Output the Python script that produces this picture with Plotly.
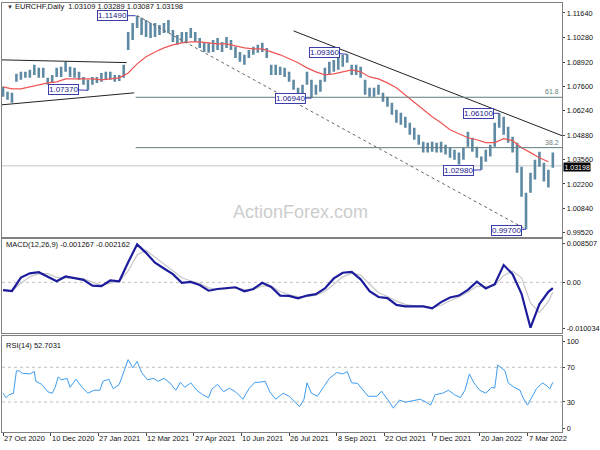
import plotly.graph_objects as go

# ---------------- data ----------------
header_text = "EURCHF,Daily  1.03109 1.03289 1.03087 1.03198"
last_close = 1.03198
bar_step = 3  # one sampled bar every 3 daily bars

price_high = [1.0756, 1.0729, 1.0723, 1.0828, 1.0839, 1.0839, 1.0850, 1.0878, 1.0861, 1.0861,
              1.0806, 1.0822, 1.0861, 1.0867, 1.0894, 1.0867, 1.0861, 1.0839, 1.0811, 1.0795,
              1.0811, 1.0811, 1.0833, 1.0839, 1.0839, 1.0822, 1.0822, 1.0878, 1.1059, 1.1109,
              1.1149, 1.1137, 1.1125, 1.1109, 1.1109, 1.1098, 1.1109, 1.1125, 1.1070, 1.1043,
              1.1059, 1.1059, 1.1081, 1.1059, 1.1026, 1.1004, 1.0999, 1.1015, 1.1026, 1.1004,
              1.1032, 1.1015, 1.0977, 1.0949, 1.0933, 1.0960, 1.0977, 1.0988, 1.0999, 1.0971,
              1.0878, 1.0878, 1.0867, 1.0861, 1.0839, 1.0795, 1.0751, 1.0767, 1.0839, 1.0795,
              1.0767, 1.0795, 1.0861, 1.0894, 1.0905, 1.0916, 1.0933, 1.0936, 1.0878, 1.0878,
              1.0867, 1.0795, 1.0751, 1.0751, 1.0767, 1.0723, 1.0701, 1.0668, 1.0630, 1.0613,
              1.0591, 1.0558, 1.0530, 1.0492, 1.0453, 1.0448, 1.0453, 1.0448, 1.0453, 1.0437,
              1.0420, 1.0409, 1.0393, 1.0420, 1.0508, 1.0475, 1.0426, 1.0371, 1.0409, 1.0437,
              1.0558, 1.0610, 1.0591, 1.0536, 1.0481, 1.0448, 1.0315, 1.0172, 1.0282, 1.0354,
              1.0398, 1.0337, 1.0299, 1.0393]
price_low = [1.0701, 1.0685, 1.0668, 1.0784, 1.0795, 1.0806, 1.0806, 1.0822, 1.0806, 1.0806,
             1.0767, 1.0778, 1.0811, 1.0811, 1.0839, 1.0811, 1.0806, 1.0795, 1.0767, 1.0737,
             1.0767, 1.0778, 1.0784, 1.0795, 1.0795, 1.0784, 1.0789, 1.0806, 1.0960, 1.1015,
             1.1081, 1.1043, 1.1032, 1.1026, 1.1032, 1.1043, 1.1054, 1.1054, 1.1004, 1.0988,
             1.0999, 1.1004, 1.1026, 1.1004, 1.0971, 1.0949, 1.0944, 1.0949, 1.0960, 1.0949,
             1.0971, 1.0960, 1.0916, 1.0894, 1.0878, 1.0916, 1.0933, 1.0944, 1.0949, 1.0916,
             1.0822, 1.0822, 1.0822, 1.0811, 1.0784, 1.0740, 1.0701, 1.0712, 1.0767, 1.0694,
             1.0712, 1.0729, 1.0784, 1.0822, 1.0839, 1.0850, 1.0867, 1.0889, 1.0822, 1.0822,
             1.0806, 1.0712, 1.0701, 1.0701, 1.0712, 1.0674, 1.0646, 1.0602, 1.0558, 1.0547,
             1.0530, 1.0492, 1.0464, 1.0437, 1.0393, 1.0393, 1.0398, 1.0393, 1.0393, 1.0382,
             1.0365, 1.0354, 1.0327, 1.0354, 1.0426, 1.0398, 1.0365, 1.0298, 1.0343, 1.0371,
             1.0426, 1.0530, 1.0492, 1.0448, 1.0393, 1.0282, 1.0150, 0.9970, 1.0172, 1.0244,
             1.0315, 1.0233, 1.0200, 1.0310]

ma_idx = list(range(0, 367, 6))
ma_val = [1.0756, 1.0745, 1.0745, 1.0756, 1.0767, 1.0778, 1.0784, 1.0800, 1.0800, 1.0800,
          1.0800, 1.0795, 1.0800, 1.0806, 1.0833, 1.0883, 1.0922, 1.0949, 1.0971, 1.0988,
          1.0999, 1.1004, 1.1004, 1.0999, 1.0993, 1.0993, 1.0982, 1.0971, 1.0966, 1.0966,
          1.0949, 1.0933, 1.0911, 1.0889, 1.0861, 1.0839, 1.0822, 1.0828, 1.0839, 1.0850,
          1.0839, 1.0811, 1.0800, 1.0778, 1.0751, 1.0712, 1.0674, 1.0635, 1.0591, 1.0558,
          1.0519, 1.0497, 1.0475, 1.0464, 1.0448, 1.0448, 1.0470, 1.0459, 1.0420, 1.0393,
          1.0365, 1.0343]

macd_idx = list(range(0, 367, 6)) + [369]
macd_val = [-0.00169, -0.00188, 0.00105, 0.00198, 0.00222, 0.00117, 0.00023, 0.00129, 0.00086, 0.00055,
            -0.00070, -0.00082, 0.00042, 0.00023, 0.00440, 0.00830, 0.00645, 0.00428, 0.00303, 0.00179,
            -0.00008, 0.00011, -0.00057, -0.00182, -0.00144, -0.00132, -0.00107, -0.00194, -0.00144, -0.00008,
            -0.00101, -0.00288, -0.00294, -0.00350, -0.00288, -0.00256, -0.00132, 0.00086, 0.00210, 0.00229,
            0.00067, -0.00194, -0.00319, -0.00344, -0.00493, -0.00524, -0.00518, -0.00524, -0.00567, -0.00431,
            -0.00331, -0.00288, -0.00163, 0.00017, -0.00132, -0.00039, 0.00378, 0.00179, -0.00250, -0.00990,
            -0.00474, -0.00206, -0.001267]
signal_val = [-0.0016, -0.0018, -0.0002, 0.0012, 0.0019, 0.0019, 0.0011, 0.0009, 0.0010, 0.0008,
              0.0000, -0.0006, -0.0002, 0.0002, 0.0025, 0.0060, 0.0070, 0.0055, 0.0040, 0.0026,
              0.0010, 0.0003, -0.0002, -0.0012, -0.0015, -0.0014, -0.0012, -0.0016, -0.0016, -0.0008,
              -0.0008, -0.0020, -0.0027, -0.0031, -0.0031, -0.0028, -0.0020, -0.0004, 0.0012, 0.0020,
              0.0016, -0.0004, -0.0022, -0.0031, -0.0041, -0.0048, -0.0051, -0.0052, -0.0055, -0.0050,
              -0.0040, -0.0032, -0.0022, -0.0008, -0.0009, -0.0007, 0.0015, 0.0025, 0.0010, -0.0045,
              -0.0066, -0.0042, -0.002162]

rsi_idx = [0, 2, 4, 7, 9, 11, 13, 18, 21, 22, 26, 30, 33, 35, 37, 39, 43, 45, 49, 53,
           57, 61, 65, 67, 71, 74, 78, 80, 84, 87, 90, 93, 97, 101, 104, 108, 112, 116, 119, 122,
           126, 130, 134, 138, 140, 144, 148, 152, 156, 161, 165, 169, 172, 176, 179, 183, 188, 192, 195, 199,
           202, 204, 207, 211, 215, 219, 224, 228, 231, 234, 238, 242, 245, 251, 254, 258, 262, 266, 270, 275,
           280, 284, 287, 290, 295, 299, 303, 307, 310, 313, 316, 320, 324, 328, 330, 332, 337, 339, 343, 347,
           349, 352, 356, 358, 362, 365, 367, 369]
rsi_val = [40.1, 34.9, 38.4, 40.1, 65.8, 65.8, 63.0, 62.3, 65.1, 53.8, 50.3, 41.8, 40.1, 46.9, 58.9, 55.5, 57.2, 46.9, 56.2, 46.9,
           40.1, 43.5, 43.5, 53.8, 56.2, 45.2, 50.3, 60.6, 78.8, 69.2, 76.7, 64.0, 55.5, 57.2, 53.8, 57.2, 52.1, 43.5, 52.7, 46.9,
           52.1, 43.5, 38.4, 34.9, 44.5, 50.3, 41.8, 45.9, 41.8, 33.2, 45.2, 52.7, 52.7, 53.8, 41.8, 33.2, 40.1, 36.6, 31.5, 24.7,
           33.2, 52.1, 40.1, 36.6, 46.9, 57.2, 64.0, 62.3, 65.1, 52.1, 51.4, 43.5, 36.6, 36.6, 42.5, 33.2, 22.9, 32.2, 29.8, 31.5,
           33.2, 29.8, 26.4, 38.4, 40.1, 43.5, 38.4, 34.9, 43.5, 62.3, 52.1, 43.5, 40.1, 46.9, 45.9, 72.6, 65.8, 52.1, 46.9, 43.5,
           34.9, 26.4, 40.1, 45.2, 52.1, 48.6, 45.2, 52.7]

date_tick_idx = [0, 32, 64, 96, 128, 160, 192, 224, 256, 288, 320, 352]
date_tick_text = ["27 Oct 2020", "10 Dec 2020", "27 Jan 2021", "12 Mar 2021", "27 Apr 2021", "10 Jun 2021",
                  "26 Jul 2021", "8 Sep 2021", "22 Oct 2021", "7 Dec 2021", "20 Jan 2022", "7 Mar 2022"]

price_tick_vals = [1.1164, 1.1028, 1.0892, 1.0760, 1.0624, 1.0488, 1.0356, 1.0220, 1.0084, 0.9952]
price_tick_text = ["1.11640", "1.10280", "1.08920", "1.07600", "1.06240", "1.04880", "1.03560", "1.02200", "1.00840", "0.99520"]

macd_tick_vals = [0.008507, 0.0, -0.010034]
macd_tick_text = ["0.008507", "0.00", "-0.010034"]
rsi_tick_vals = [100, 70, 30, 0]

swing_idx = [89, 57, 207, 231, 333, 321, 351]
swing_price = [1.11490, 1.07370, 1.06940, 1.09360, 1.06100, 1.02980, 0.99700]

trend_x0 = [-0.7, -0.7, 195, 90]
trend_y0 = [1.0905, 1.0657, 1.1065, 1.1149]
trend_x1 = [83, 88, 375.3, 351]
trend_y1 = [1.0890, 1.0723, 1.0486, 0.9970]

fib_high, fib_low, fib_start = 1.1149, 0.9970, 89
fib_ratios = [0.618, 0.382]

# ---------------- figure ----------------
FONT = "Liberation Sans"
BORDER = "#808080"
X_RANGE = [-0.7, 375.3]

fig = go.Figure()

bx, by = [], []
for k, (h, l) in enumerate(zip(price_high, price_low)):
    i = k * bar_step
    bx += [i, i, None]
    by += [l, h, None]

# current price line
fig.add_trace(go.Scatter(x=X_RANGE, y=[last_close, last_close], mode="lines",
                         line=dict(color="#d9d9d9", width=1.5), xaxis="x", yaxis="y", hoverinfo="skip"))
fig.add_trace(go.Scatter(x=bx, y=by, mode="lines", line=dict(color="#5f8aa4", width=2.6),
                         xaxis="x", yaxis="y", hoverinfo="skip"))
fig.add_trace(go.Scatter(x=ma_idx, y=ma_val, mode="lines", line=dict(color="#f05555", width=1.2),
                         xaxis="x", yaxis="y"))

fig.add_trace(go.Scatter(x=X_RANGE, y=[0, 0], mode="lines",
                         line=dict(color="#c0c0c0", width=1, dash="dot"), xaxis="x2", yaxis="y2"))
fig.add_trace(go.Scatter(x=macd_idx, y=signal_val, mode="lines", line=dict(color="#c8c8c8", width=1.2),
                         xaxis="x2", yaxis="y2"))
fig.add_trace(go.Scatter(x=macd_idx, y=macd_val, mode="lines", line=dict(color="#1c1c9c", width=2.2),
                         xaxis="x2", yaxis="y2"))

for lvl in [70, 30]:
    fig.add_trace(go.Scatter(x=X_RANGE, y=[lvl, lvl], mode="lines",
                             line=dict(color="#c0c0c0", width=1, dash="dot"), xaxis="x3", yaxis="y3"))
fig.add_trace(go.Scatter(x=rsi_idx, y=rsi_val, mode="lines", line=dict(color="#3d9cf0", width=1),
                         xaxis="x3", yaxis="y3"))

shapes = []
for j, (x0, y0, x1, y1) in enumerate(zip(trend_x0, trend_y0, trend_x1, trend_y1)):
    dashed = (j == 3)
    shapes.append(dict(type="line", xref="x", yref="y", x0=x0, y0=y0, x1=x1, y1=y1,
                       line=dict(color="#666666" if dashed else "#222222", width=1,
                                 dash="3px,3px" if dashed else "solid")))
for r in fib_ratios:
    lvl = fib_low + r * (fib_high - fib_low)
    shapes.append(dict(type="line", xref="x", yref="y", x0=fib_start, x1=X_RANGE[1], y0=lvl, y1=lvl,
                       line=dict(color="#5f7c7c", width=1)))

annotations = []
# fib texts
for r in fib_ratios:
    lvl = fib_low + r * (fib_high - fib_low)
    annotations.append(dict(xref="x", yref="y", x=374.5, y=lvl, text=f"{r*100:.1f}", showarrow=False,
                            xanchor="right", yanchor="bottom", font=dict(family=FONT, size=7, color="#6a8080")))
# swing labels
offsets = [(-23, 0), (-24, -1), (-21, 0), (-23, -2), (-21, 0), (-23, 1), (-20, 1)]
for (i, p), (ax, ay) in zip(zip(swing_idx, swing_price), offsets):
    annotations.append(dict(xref="x", yref="y", x=i, y=p, text=f"{p:.5f}", showarrow=True, arrowhead=0,
                            arrowwidth=1, arrowcolor="#3c3cab", ax=ax, ay=ay, standoff=0,
                            bgcolor="white", bordercolor="#3c3cab", borderwidth=1, borderpad=0,
                            font=dict(family=FONT, size=8, color="#1a1a8c")))
# headers
annotations.append(dict(xref="paper", yref="paper", x=5 / 600, y=1 - 7 / 450, text="▼", showarrow=False,
                        xanchor="left", yanchor="middle", font=dict(family=FONT, size=6, color="#333333")))
annotations.append(dict(xref="paper", yref="paper", x=13 / 600, y=1 - 7 / 450, text=header_text, showarrow=False,
                        xanchor="left", yanchor="middle", font=dict(family=FONT, size=7.5, color="#111111")))
annotations.append(dict(xref="paper", yref="paper", x=4 / 600, y=1 - 245 / 450,
                        text="MACD(12,26,9) -0.001267 -0.002162", showarrow=False,
                        xanchor="left", yanchor="middle", font=dict(family=FONT, size=7.5, color="#111111")))
annotations.append(dict(xref="paper", yref="paper", x=4 / 600, y=1 - 346 / 450,
                        text="RSI(14) 52.7031", showarrow=False,
                        xanchor="left", yanchor="middle", font=dict(family=FONT, size=7.5, color="#111111")))
# watermark
annotations.append(dict(xref="paper", yref="paper", x=303 / 600, y=1 - 212 / 450, text="ActionForex.com",
                        showarrow=False, xanchor="center", yanchor="middle",
                        font=dict(family=FONT, size=18, color="#cdcdcd")))
# current price box
annotations.append(dict(xref="paper", yref="y", x=567 / 600, y=last_close, text=f"{last_close:.5f}",
                        showarrow=False, xanchor="left", yanchor="middle", bgcolor="#000000", borderpad=0.5,
                        yshift=-1, font=dict(family=FONT, size=7, color="white")))
# date labels
for i, t in zip(date_tick_idx, date_tick_text):
    annotations.append(dict(xref="x3", yref="paper", x=i, y=1 - 433 / 450, text=t, showarrow=False,
                            xanchor="left", yanchor="top", xshift=-1,
                            font=dict(family=FONT, size=7.5, color="#111111")))

xdom = [2 / 600, 566 / 600]
common_x = dict(domain=xdom, range=X_RANGE, showgrid=False, zeroline=False, showline=True, mirror=True,
                linecolor=BORDER, linewidth=1, showticklabels=False, ticks="")
common_y = dict(side="right", showgrid=False, zeroline=False, showline=True, mirror=True,
                linecolor=BORDER, linewidth=1, ticks="outside", ticklen=2, tickcolor="#444444",
                tickfont=dict(family=FONT, size=7.3, color="#111111"))

fig.update_layout(
    width=600, height=450, margin=dict(l=0, r=0, t=0, b=0),
    paper_bgcolor="white", plot_bgcolor="white", showlegend=False,
    xaxis=dict(anchor="y", **common_x),
    xaxis2=dict(anchor="y2", matches="x", **common_x),
    xaxis3=dict(anchor="y3", matches="x", **{**common_x, "ticks": "outside", "ticklen": 3,
                                              "tickvals": date_tick_idx, "tickcolor": "#444444"}),
    yaxis=dict(anchor="x", domain=[1 - 238 / 450, 1 - 3 / 450], range=[0.99245, 1.12191],
               tickvals=price_tick_vals, ticktext=price_tick_text, **common_y),
    yaxis2=dict(anchor="x2", domain=[1 - 334 / 450, 1 - 240 / 450], range=[-0.011112, 0.009369],
                tickvals=macd_tick_vals, ticktext=macd_tick_text, **common_y),
    yaxis3=dict(anchor="x3", domain=[1 - 433 / 450, 1 - 337 / 450], range=[-4.6, 105.7],
                tickvals=rsi_tick_vals, **common_y),
    shapes=shapes, annotations=annotations,
)

fig.write_html("out.html", config={"displayModeBar": False},
               post_script="document.body.style.margin='0';document.body.style.overflow='hidden';")
